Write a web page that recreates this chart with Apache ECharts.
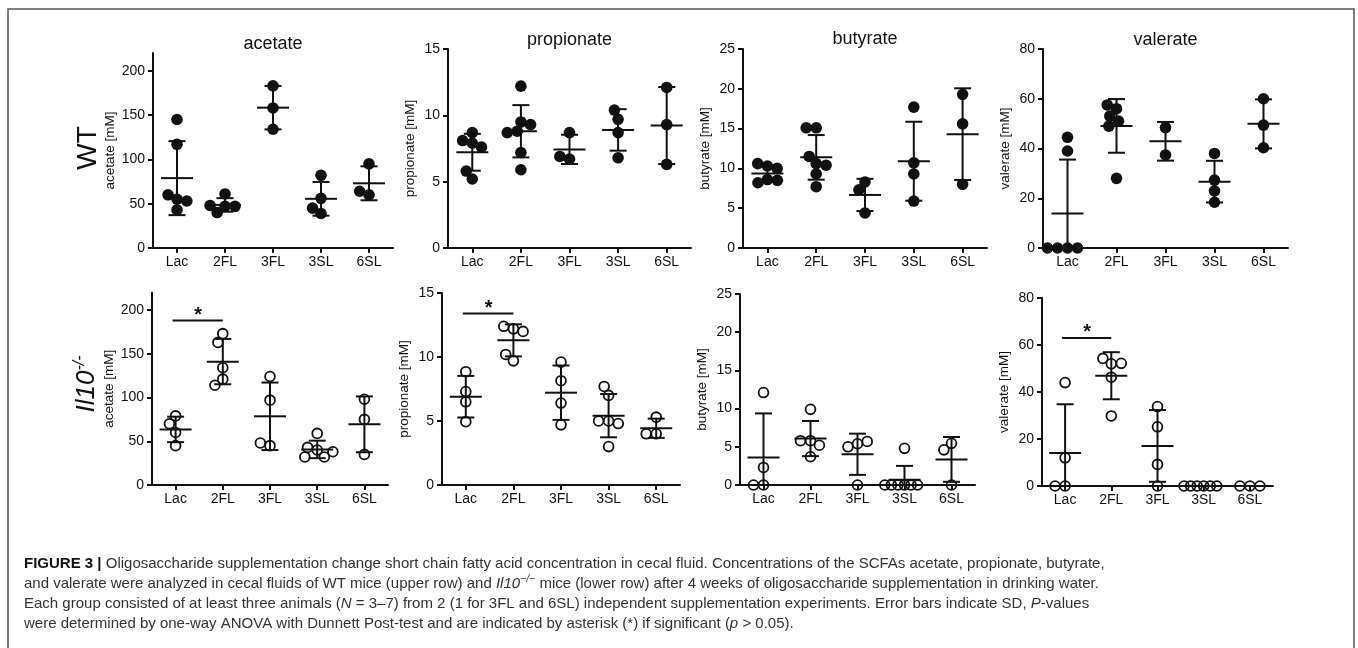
<!DOCTYPE html>
<html><head><meta charset="utf-8">
<script src="https://cdn.jsdelivr.net/npm/echarts@6/dist/echarts.min.js"></script>
<style>html,body{margin:0;padding:0;background:#fff}#c{width:1358px;height:648px}</style>
</head><body><div id="c"></div>
<script>
// ---------- data ----------
const categories = ['Lac', '2FL', '3FL', '3SL', '6SL'];
const panelTitles = ['acetate', 'propionate', 'butyrate', 'valerate'];
const axisNames = ['acetate [mM]', 'propionate [mM]', 'butyrate [mM]', 'valerate [mM]'];
const axisMax = [220, 15, 25, 80];
const axisTicks = [[0, 50, 100, 150, 200], [0, 5, 10, 15], [0, 5, 10, 15, 20, 25], [0, 20, 40, 60, 80]];
const axisInterval = [50, 5, 5, 20];

// WT mice (upper row), one list per oligosaccharide group
const acetateWT = [[55, 43, 60, 53, 117, 145], [47, 61, 40, 47, 48], [183, 158, 134], [56, 82, 39, 45], [60, 95, 64]];
const propionateWT = [[8.7, 7.9, 8.1, 7.6, 5.2, 5.8], [9.5, 8.8, 9.3, 8.7, 12.2, 5.9, 7.2], [6.7, 8.7, 6.9], [9.7, 10.4, 8.7, 6.8], [12.1, 9.3, 6.3]];
const butyrateWT = [[10.3, 10.6, 10.0, 8.6, 8.2, 8.5], [15.1, 15.1, 10.6, 11.5, 10.4, 9.3, 7.7], [8.3, 7.3, 4.4], [17.7, 10.7, 9.3, 5.9], [19.3, 15.6, 8.0]];
const valerateWT = [[0, 0, 0, 0, 44.5, 39], [56, 57.5, 53, 51, 49, 28], [48.4, 37.4], [38, 27.3, 23, 18.4], [60, 49.4, 40.3]];

// Il10-/- mice (lower row)
const acetateIL = [[79, 70, 45, 60], [173, 163, 134, 121, 114], [124, 97, 45, 48], [40, 43, 59, 32, 38, 32], [98, 75, 35]];
const propionateIL = [[8.85, 7.3, 6.5, 4.95], [12.2, 12.4, 12.0, 9.7, 10.2], [9.6, 8.15, 6.4, 4.7], [7.0, 7.7, 5.0, 5.0, 4.8, 3.0], [5.3, 4.0, 4.0]];
const butyrateIL = [[0, 0, 2.3, 12.1], [5.8, 5.8, 5.2, 3.7, 9.9], [5.4, 5.0, 5.7, 0], [0, 0, 0, 0, 0, 0, 4.8], [5.45, 4.6, 0]];
const valerateIL = [[0, 0, 12, 44], [52, 54.3, 52.2, 46.3, 29.8], [33.8, 25.2, 9.2, 0], [0, 0, 0, 0, 0, 0], [0, 0, 0]];

// significance brackets: [panel, fromCategory, toCategory, value]
const significance = [[4, 0, 1, 188], [5, 0, 1, 13.4], [7, 0, 1, 63]];

const captionLines = [
  '{b|FIGURE 3 |} Oligosaccharide supplementation change short chain fatty acid concentration in cecal fluid. Concentrations of the SCFAs acetate, propionate, butyrate,',
  'and valerate were analyzed in cecal fluids of WT mice (upper row) and {i|Il10}{sup|\u2212/\u2212} mice (lower row) after 4 weeks of oligosaccharide supplementation in drinking water.',
  'Each group consisted of at least three animals ({i|N} = 3\u20137) from 2 (1 for 3FL and 6SL) independent supplementation experiments. Error bars indicate SD, {i|P}-values',
  'were determined by one-way ANOVA with Dunnett Post-test and are indicated by asterisk (*) if significant ({i|p} > 0.05).'
];

// ---------- layout ----------
const FONT = '"Liberation Sans", Arial, Helvetica, sans-serif';
const INK = '#111';
const panels = [acetateWT, propionateWT, butyrateWT, valerateWT, acetateIL, propionateIL, butyrateIL, valerateIL];
const grids = [
  { left: 153, top: 53, width: 240, height: 195 },
  { left: 448, top: 49, width: 243, height: 199 },
  { left: 743, top: 49, width: 244, height: 199 },
  { left: 1043, top: 49, width: 245, height: 199 },
  { left: 152, top: 292.5, width: 236, height: 192.5 },
  { left: 442, top: 293, width: 238, height: 192 },
  { left: 740, top: 294, width: 235, height: 191 },
  { left: 1042, top: 298, width: 231, height: 188 }
];

// deterministic beeswarm spread (pixel space) like a scatter dot plot
function swarm(ys, D, maxOff) {
  let d = D;
  for (let attempt = 0; attempt < 30; attempt++) {
    const xs = []; let ok = true;
    for (let i = 0; i < ys.length; i++) {
      const cands = [0];
      for (let j = 0; j < i; j++) {
        const dy = ys[i] - ys[j];
        if (Math.abs(dy) < d) { const dx = Math.sqrt(d * d - dy * dy); cands.push(xs[j] - dx, xs[j] + dx); }
      }
      cands.sort((a, b) => (Math.abs(a) - Math.abs(b)) || (a - b));
      let placed = null;
      for (const c of cands) {
        if (Math.abs(c) > maxOff + 1e-6) continue;
        let good = true;
        for (let j = 0; j < i; j++) {
          const dx = c - xs[j], dy = ys[i] - ys[j];
          if (dx * dx + dy * dy < d * d - 1e-6) { good = false; break; }
        }
        if (good) { placed = c; break; }
      }
      if (placed === null) { ok = false; break; }
      xs.push(placed);
    }
    if (ok) return xs;
    d *= 0.9;
  }
  return ys.map(() => 0);
}

function pointSeries(i, groups, filled) {
  const data = [];
  groups.forEach((vals, ci) => vals.forEach(v => data.push([ci, v])));
  let cache = null;
  return {
    type: 'custom', coordinateSystem: 'cartesian2d', xAxisIndex: i, yAxisIndex: i,
    clip: false, z: 3, silent: true, data: data, encode: { x: 0, y: 1 },
    renderItem: function (params, api) {
      if (!cache || params.dataIndexInside === 0) {
        cache = [];
        groups.forEach((vals, ci) => {
          const pts = vals.map(v => api.coord([ci, v]));
          const offs = swarm(pts.map(p => p[1]), 10, 20);
          pts.forEach((p, k) => cache.push([p[0] + offs[k], p[1]]));
        });
      }
      const p = cache[params.dataIndex];
      return filled
        ? { type: 'circle', shape: { cx: p[0], cy: p[1], r: 5.8 }, style: { fill: INK } }
        : { type: 'circle', shape: { cx: p[0], cy: p[1], r: 4.9 }, style: { fill: 'none', stroke: INK, lineWidth: 1.8 } };
    }
  };
}

function errorSeries(i, groups) {
  const data = groups.map((vals, ci) => {
    const n = vals.length;
    const m = vals.reduce((a, b) => a + b, 0) / n;
    const sd = Math.sqrt(vals.reduce((a, b) => a + (b - m) * (b - m), 0) / (n - 1));
    return [ci, m, Math.max(0, m - sd), m + sd];
  });
  return {
    type: 'custom', coordinateSystem: 'cartesian2d', xAxisIndex: i, yAxisIndex: i,
    clip: false, z: 4, silent: true, data: data, encode: { x: 0, y: [1, 2, 3] },
    renderItem: function (params, api) {
      const ci = api.value(0);
      const pm = api.coord([ci, api.value(1)]);
      const pl = api.coord([ci, api.value(2)]);
      const ph = api.coord([ci, api.value(3)]);
      const x = pm[0];
      const st = { stroke: INK, lineWidth: 2 };
      return {
        type: 'group', children: [
          { type: 'line', shape: { x1: x - 16, y1: pm[1], x2: x + 16, y2: pm[1] }, style: st },
          { type: 'line', shape: { x1: x, y1: pl[1], x2: x, y2: ph[1] }, style: st },
          { type: 'line', shape: { x1: x - 8.5, y1: ph[1], x2: x + 8.5, y2: ph[1] }, style: st },
          { type: 'line', shape: { x1: x - 8.5, y1: pl[1], x2: x + 8.5, y2: pl[1] }, style: st }
        ]
      };
    }
  };
}

function sigSeries(s) {
  const i = s[0];
  return {
    type: 'custom', coordinateSystem: 'cartesian2d', xAxisIndex: i, yAxisIndex: i,
    clip: false, z: 5, silent: true, data: [[s[1], s[2], s[3]]], encode: { x: [0, 1], y: 2 },
    renderItem: function (params, api) {
      const p1 = api.coord([api.value(0), api.value(2)]);
      const p2 = api.coord([api.value(1), api.value(2)]);
      return {
        type: 'group', children: [
          { type: 'line', shape: { x1: p1[0] - 3, y1: p1[1], x2: p2[0], y2: p2[1] }, style: { stroke: INK, lineWidth: 2 } },
          { type: 'text', x: (p1[0] + p2[0]) / 2 - 1, y: p1[1] - 5, style: { text: '*', fontSize: 20, fontWeight: 'bold', fontFamily: FONT, fill: INK, align: 'center', verticalAlign: 'middle' } }
        ]
      };
    }
  };
}

const xAxes = [], yAxes = [], series = [];
panels.forEach((groups, i) => {
  const k = i % 4;
  xAxes.push({
    gridIndex: i, type: 'category', data: categories, boundaryGap: true,
    axisLine: { show: true, lineStyle: { color: INK, width: 2 } },
    axisTick: { show: true, alignWithLabel: true, interval: 0, length: 5, lineStyle: { color: INK, width: 2 } },
    axisLabel: { interval: 0, color: INK, fontSize: 14, fontFamily: FONT, margin: 7 },
    splitLine: { show: false }
  });
  yAxes.push({
    gridIndex: i, type: 'value', min: 0, max: axisMax[k], interval: axisInterval[k],
    name: axisNames[k], nameLocation: 'middle', nameGap: 31, nameRotate: 90,
    nameTextStyle: { fontSize: 13.5, color: INK, fontFamily: FONT },
    axisLine: { show: true, lineStyle: { color: INK, width: 2 } },
    axisTick: { show: true, length: 5, lineStyle: { color: INK, width: 2 }, customValues: axisTicks[k] },
    axisLabel: { color: INK, fontSize: 14, fontFamily: FONT, margin: 8, customValues: axisTicks[k],
      formatter: v => (axisTicks[k].indexOf(v) >= 0 ? String(v) : '') },
    splitLine: { show: false }
  });
  series.push(pointSeries(i, groups, i < 4));
  series.push(errorSeries(i, groups));
});
significance.forEach(s => series.push(sigSeries(s)));

const graphics = [
  { type: 'polyline', shape: { points: [[8, 660], [8, 9], [1354, 9], [1354, 660]] }, style: { stroke: '#555', lineWidth: 1.5, fill: 'none' }, silent: true }
];
const titleY = [44, 40, 39.5, 40];
panelTitles.forEach((t, k) => {
  graphics.push({ type: 'text', x: grids[k].left + grids[k].width / 2, y: titleY[k],
    style: { text: t, fontSize: 18, fontFamily: FONT, fill: INK, align: 'center', verticalAlign: 'middle' } });
});
graphics.push({ type: 'text', x: 88, y: 148, rotation: Math.PI / 2,
  style: { text: 'WT', fontSize: 28, fontFamily: FONT, fill: INK, align: 'center', verticalAlign: 'middle' } });
graphics.push({ type: 'text', x: 87, y: 384, rotation: Math.PI / 2,
  style: { text: '{i|Il10}{sup|-/-}', fontFamily: FONT, fill: INK, align: 'center', verticalAlign: 'middle',
    rich: { i: { fontSize: 26, fontStyle: 'italic', fontFamily: FONT, fill: INK, lineHeight: 30 },
            sup: { fontSize: 16, fontStyle: 'italic', fontFamily: FONT, fill: INK, lineHeight: 16, verticalAlign: 'top' } } } });
const capY = [564, 584, 604, 624];
captionLines.forEach((line, n) => {
  graphics.push({ type: 'text', x: 24, y: capY[n],
    style: { text: line, fontSize: 15, fontFamily: FONT, fill: '#333', align: 'left', verticalAlign: 'middle', lineHeight: 20,
      rich: {
        b: { fontSize: 15, fontWeight: 'bold', fontFamily: FONT, fill: '#111', lineHeight: 20 },
        i: { fontSize: 15, fontStyle: 'italic', fontFamily: FONT, fill: '#333', lineHeight: 20 },
        sup: { fontSize: 10.5, fontStyle: 'italic', fontFamily: FONT, fill: '#333', lineHeight: 12, verticalAlign: 'top' }
      } } });
});

const chart = echarts.init(document.getElementById('c'), null, { renderer: 'canvas' });
chart.setOption({
  animation: false,
  backgroundColor: '#fff',
  grid: grids,
  xAxis: xAxes,
  yAxis: yAxes,
  series: series,
  graphic: graphics
});
</script>
</body></html>
